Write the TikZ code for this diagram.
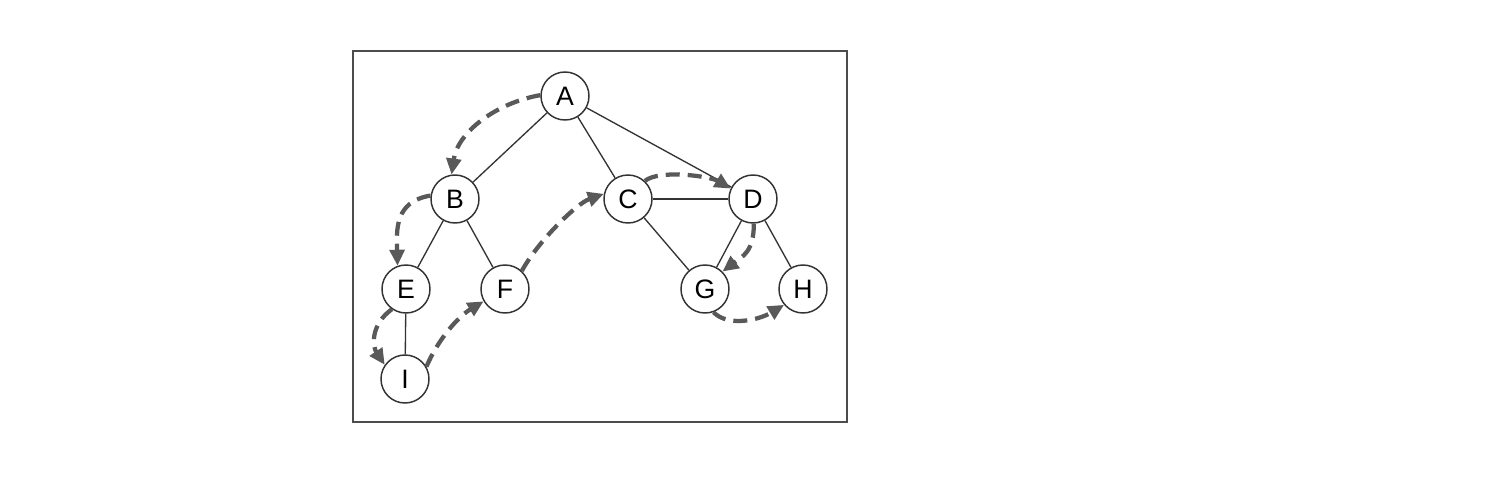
\documentclass[tikz,border=0pt]{standalone}
\usepackage{fontspec}
\setmainfont{Liberation Sans}
\usetikzlibrary{arrows.meta}

\begin{document}
\begin{tikzpicture}[x=0.75pt,y=0.75pt,yscale=-1,xscale=1,
    vertex/.style={draw=black!80,line width=1.1pt,circle,minimum size=36pt,inner sep=0pt,font=\fontsize{20}{24}\selectfont},
    edge/.style={draw=black!80,line width=1pt},
    visit/.style={draw=black!65,line width=3.2pt,dash pattern=on 10.5pt off 6pt,-{Triangle[length=12pt,width=11pt]}}]
        %set diagram left start at 0, and has height of 486
        \path[use as bounding box] (0,0) rectangle (1497,486);

        %Shape: Rectangle [id:frame] 
        \draw [draw=black!70,line width=1pt] (353,51) rectangle (847,422);

        % Vertices
        \node [vertex] (A) at (565,96) {A};
        \node [vertex] (B) at (455,199) {B};
        \node [vertex] (C) at (628,199) {C};
        \node [vertex] (D) at (753,199) {D};
        \node [vertex] (E) at (406,289) {E};
        \node [vertex] (F) at (505,289) {F};
        \node [vertex] (G) at (705,289) {G};
        \node [vertex] (H) at (803,289) {H};
        \node [vertex] (I) at (405,379) {I};

        %Straight Lines 
        \draw [edge] (A) -- (B) ;
        \draw [edge] (A) -- (C) ;
        \draw [edge] (A) -- (D) ;
        \draw [edge] (B) -- (E) ;
        \draw [edge] (B) -- (F) ;
        \draw [edge] (C) -- (D) ;
        \draw [edge] (C) -- (G) ;
        \draw [edge] (D) -- (G) ;
        \draw [edge] (D) -- (H) ;
        \draw [edge] (E) -- (I) ;

        %Curve Lines (visiting order)
        \draw [visit] (A.178) .. controls +(-45,8) and +(6,-42) .. (B.98) ;
        \draw [visit] (B.172) .. controls +(-36,6) and +(-1,-36) .. (E.110) ;
        \draw [visit] (E.235) .. controls +(-22,16) and +(-12,-18) .. (I.145) ;
        \draw [visit] (I.30) .. controls +(12,-28) and +(-25,15) .. (F.210) ;
        \draw [visit] (F.47) .. controls +(15,-28) and +(-28,10) .. (C.168) ;
        \draw [visit] (C.47) .. controls +(15,-12) and +(-20,-12) .. (D.155) ;
        \draw [visit] (D.272) .. controls +(0,28) and +(20,-15) .. (G.45) ;
        \draw [visit] (G.290) .. controls +(15,15) and +(-25,15) .. (H.220) ;

    \end{tikzpicture}
\end{document}
